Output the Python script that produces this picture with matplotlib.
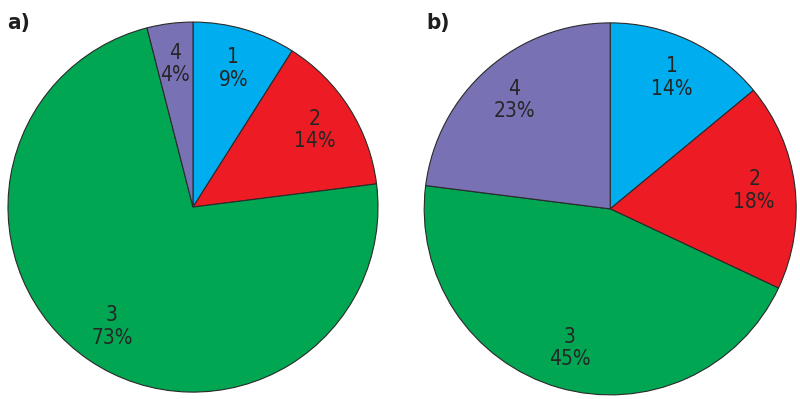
import matplotlib
matplotlib.use("Agg")
import matplotlib.pyplot as plt

names = ["1", "2", "3", "4"]
values_a = [9, 14, 73, 4]
values_b = [14, 18, 45, 23]
colors = ["#00AEEF", "#ED1C24", "#00A651", "#7872B5"]
panel_labels = ["a)", "b)"]

plt.rcParams['font.family'] = ["DejaVu Sans"]
plt.rcParams['font.stretch'] = 'condensed'

fig = plt.figure(figsize=(8, 3.99), dpi=100)

def draw(rect, vals, tag, tagpos):
    ax = fig.add_axes(rect)
    labels = [f"{n}\n{v}%" for n, v in zip(names, vals)]
    wedges, texts = ax.pie(vals, colors=colors, startangle=90, counterclock=False,
                           labels=labels, labeldistance=0.78,
                           wedgeprops=dict(edgecolor="#2a2a2a", linewidth=0.8))
    for t in texts:
        t.set_ha("center"); t.set_va("center")
        t.set_fontsize(15); t.set_color("#262626"); t.set_linespacing(1.15)
        t.set_fontstretch('condensed')
    ax.set_xlim(-1.005, 1.005); ax.set_ylim(-1.005, 1.005)
    ax.set_aspect("equal")
    ax.axis("off")
    fig.text(tagpos[0], tagpos[1], tag, fontsize=16, fontweight="bold", color="#1e1e1e",
             ha="left", va="top", fontstretch='condensed')

draw([0.00875, 0.015, 0.465, 0.932], values_a, panel_labels[0], (0.009, 0.967))
draw([0.529, 0.008, 0.4675, 0.937], values_b, panel_labels[1], (0.533, 0.967))

fig.savefig("out.png", dpi=100, facecolor="white")
